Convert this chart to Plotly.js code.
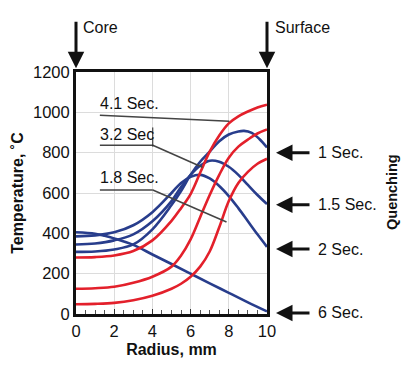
<!DOCTYPE html>
<html><head><meta charset="utf-8">
<script src="https://cdn.plot.ly/plotly-3.0.1.min.js"></script>
<style>html,body{margin:0;padding:0;background:#fff}#c{width:408px;height:371px}</style>
</head><body><div id="c"></div>
<script>
// Heating curves (red)
const heat18X = [0,1,2,3,4,5,5.5,6,6.5,7,7.5,8,8.5,9,9.5,10];
const heat18Y = [48,50,55,68,90,125,150,185,235,310,430,560,650,705,745,770];
const heat32X = [0,1,2,3,4,5,5.5,6,6.5,7,7.5,8,8.5,9,9.5,10];
const heat32Y = [125,128,135,155,185,235,290,370,480,590,690,775,830,865,895,915];
const heat41X = [0,1,2,3,4,5,5.5,6,6.5,7,7.5,8,8.5,9,9.5,10];
const heat41Y = [280,282,290,312,365,462,525,595,700,805,885,945,980,1004,1024,1038];
// Quenching curves (blue)
const q1X = [0,1,2,3,4,5,5.5,6,6.5,7,7.5,8,8.5,8.8,9.2,9.6,10];
const q1Y = [308,310,320,345,420,540,610,690,755,805,857,890,905,908,898,868,826];
const q15X = [0,1,2,3,4,5,5.5,6,6.5,7,7.5,8,8.5,9,9.5,10];
const q15Y = [345,350,365,395,460,560,630,690,735,760,755,730,690,640,590,545];
const q2X = [0,1,2,3,4,5,5.5,6,6.5,7,7.5,8,8.5,9,9.5,10];
const q2Y = [385,390,405,440,505,600,650,680,690,672,635,585,525,460,395,333];
const q6X = [0,1,1.5,2,3,4,5,6,7,8,9,10];
const q6Y = [405,398,388,375,343,295,248,200,152,105,58,13];
// Labels
const heatLabels = ['4.1 Sec.','3.2 Sec','1.8 Sec.'];
const quenchLabels = ['1 Sec.','1.5 Sec.','2 Sec.','6 Sec.'];
const quenchLevels = [800,542,322,5];
const yTicks = [0,200,400,600,800,1000,1200];
const xTicks = [0,2,4,6,8,10];

const RED = '#e3202b', BLUE = '#283d8c';
const FONT = '"Liberation Sans", Arial, sans-serif';
function tr(x, y, c) {
  return {x: x, y: y, type: 'scatter', mode: 'lines', line: {color: c, width: 2.6, shape: 'spline', smoothing: 1}, hoverinfo: 'skip', showlegend: false};
}
const data = [
  tr(q6X, q6Y, BLUE), tr(q2X, q2Y, BLUE), tr(q15X, q15Y, BLUE), tr(q1X, q1Y, BLUE),
  tr(heat18X, heat18Y, RED), tr(heat32X, heat32Y, RED), tr(heat41X, heat41Y, RED)
];

const LG = '#444';
const shapes = [
  {type:'line', xref:'x', yref:'y', x0:1.25, y0:986, x1:8.03, y1:956, line:{color:LG, width:1.5}},
  {type:'line', xref:'x', yref:'y', x0:1.25, y0:837, x1:4.02, y1:837, line:{color:LG, width:1.5}},
  {type:'line', xref:'x', yref:'y', x0:4.02, y0:837, x1:6.62, y1:728, line:{color:LG, width:1.5}},
  {type:'line', xref:'x', yref:'y', x0:4.02, y0:830, x1:4.02, y1:925, line:{color:'#222', width:1}},
  {type:'line', xref:'x', yref:'y', x0:1.25, y0:615, x1:4.02, y1:615, line:{color:LG, width:1.5}},
  {type:'line', xref:'x', yref:'y', x0:4.02, y0:615, x1:7.88, y1:456, line:{color:LG, width:1.5}}
];

const TF = {family: FONT, size: 16, color: '#111'};
const annotations = [
  {xref:'x', yref:'y', x:1.15, y:1045, text:heatLabels[0], showarrow:false, xanchor:'left', yanchor:'middle', font:TF},
  {xref:'x', yref:'y', x:1.15, y:888, text:heatLabels[1], showarrow:false, xanchor:'left', yanchor:'middle', font:TF},
  {xref:'x', yref:'y', x:1.15, y:675, text:heatLabels[2], showarrow:false, xanchor:'left', yanchor:'middle', font:TF},
  // top arrows
  {xref:'x', yref:'paper', x:0, y:1.015, ax:0, ay:-48, text:'', showarrow:true, arrowhead:2, arrowsize:1.1, arrowwidth:3, arrowcolor:'#111'},
  {xref:'x', yref:'paper', x:10, y:1.015, ax:0, ay:-48, text:'', showarrow:true, arrowhead:2, arrowsize:1.1, arrowwidth:3, arrowcolor:'#111'},
  {xref:'paper', yref:'paper', x:5/191, y:1+45/242, text:'Core', showarrow:false, xanchor:'left', yanchor:'middle', font:TF},
  {xref:'paper', yref:'paper', x:1+6/191, y:1+45/242, text:'Surface', showarrow:false, xanchor:'left', yanchor:'middle', font:TF},
  {xref:'paper', yref:'paper', x:1+125/191, y:(314-192)/242, text:'Quenching', showarrow:false, xanchor:'center', yanchor:'middle', textangle:-90, font:{family:FONT, size:14.5, color:'#111', weight:'bold'}}
];
quenchLabels.forEach(function(t, i) {
  annotations.push({xref:'paper', yref:'y', x:1+9/191, y:quenchLevels[i], ax:35, ay:0, text:'', showarrow:true, arrowhead:2, arrowsize:1.1, arrowwidth:3, arrowcolor:'#111'});
  annotations.push({xref:'paper', yref:'y', x:1+49/191, y:quenchLevels[i], text:t, showarrow:false, xanchor:'left', yanchor:'middle', font:TF});
});

const layout = {
  width: 408, height: 371,
  margin: {l:76, r:141, t:72, b:57, pad:0},
  paper_bgcolor: '#fff', plot_bgcolor: '#fff',
  font: {family: FONT, size: 16, color: '#111'},
  showlegend: false,
  xaxis: {range:[0,10], tickvals:xTicks, ticktext:xTicks.map(String), showgrid:true, gridcolor:'#dcdcdc', gridwidth:1,
    zeroline:false, showline:true, linecolor:'#111', linewidth:3, mirror:true, ticks:'inside', ticklen:5, tickcolor:'#333',
    minor:{ticks:'inside', dtick:0.5, ticklen:4, tickcolor:'#555', showgrid:false},
    tickfont:{family:FONT, size:16.5, color:'#111'},
    title:{text:'Radius, mm', font:{family:FONT, size:16, color:'#111', weight:'bold'}, standoff:6}},
  yaxis: {range:[0,1200], tickvals:yTicks, ticktext:yTicks.map(String), showgrid:true, gridcolor:'#dcdcdc', gridwidth:1,
    zeroline:false, showline:true, linecolor:'#111', linewidth:3, mirror:true, ticks:'',
    tickfont:{family:FONT, size:16.5, color:'#111'},
    title:{text:'Temperature, ˚C', font:{family:FONT, size:16, color:'#111', weight:'bold'}, standoff:6}},
  shapes: shapes,
  annotations: annotations
};
Plotly.newPlot('c', data, layout, {staticPlot:true, displayModeBar:false});
</script></body></html>
